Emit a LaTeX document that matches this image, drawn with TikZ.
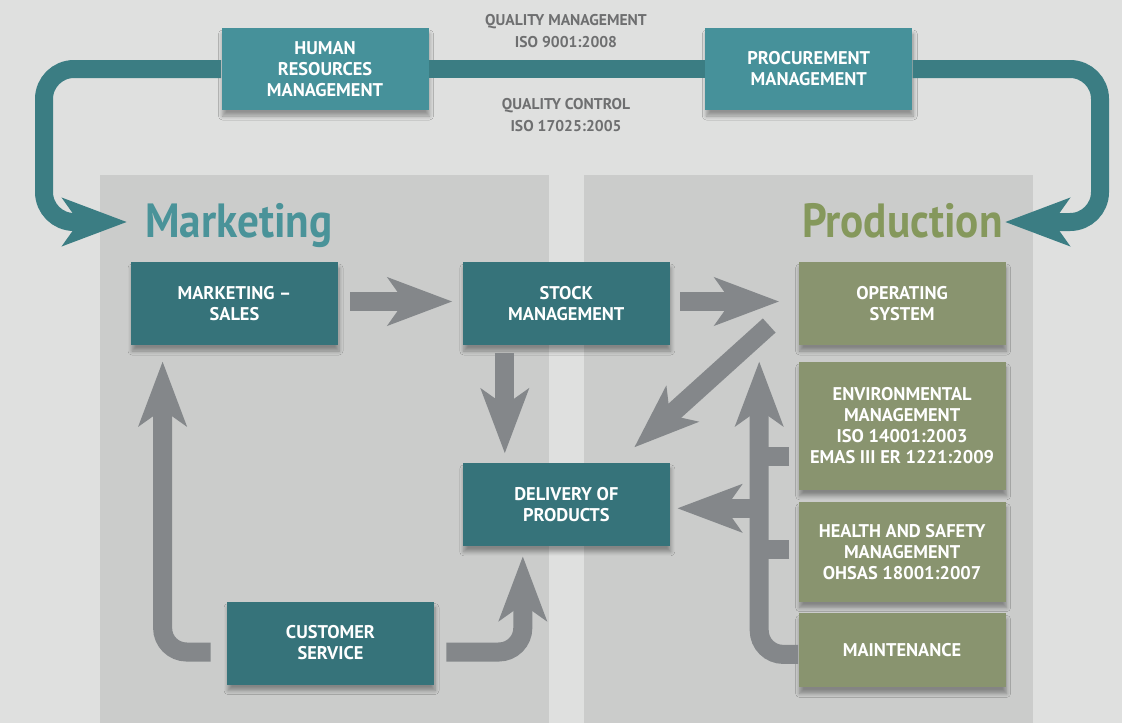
\documentclass[tikz,border=0pt]{standalone}
\usepackage{fontspec}
\setmainfont{PT Sans}
\newfontfamily\titlefont[FakeStretch=0.9]{PT Sans}
\usetikzlibrary{positioning, calc, arrows.meta, shadows.blur}

\definecolor{bggray}{HTML}{DFE0DF}
\definecolor{panelgray}{HTML}{CBCCCB}
\definecolor{boxteal}{HTML}{36737A}
\definecolor{topteal}{HTML}{46919A}
\definecolor{loopteal}{HTML}{3B7D83}
\definecolor{boxolive}{HTML}{89946F}
\definecolor{arrowgray}{HTML}{84878A}
\definecolor{titleteal}{HTML}{4A9399}
\definecolor{titlegreen}{HTML}{85985C}
\definecolor{notegray}{HTML}{6E6F70}

\tikzset{
	box/.style={inner sep=0pt, minimum width=103.5pt, align=center, text=white,
		font=\fontsize{9.2}{10.5}\selectfont\bfseries,
		blur shadow={shadow xshift=0.5pt, shadow yshift=-3pt, shadow opacity=35, shadow blur steps=6}},
	tealbox/.style={box, fill=boxteal, minimum height=41.5pt},
	topbox/.style={box, fill=topteal, minimum height=41pt},
	olivebox/.style={box, fill=boxolive},
	note/.style={align=center, text=notegray, inner sep=0pt, font=\fontsize{7.8}{11}\selectfont\bfseries},
	title/.style={inner sep=0pt, font=\titlefont\bfseries\fontsize{24}{24}\selectfont},
	bighead/.style={-{Stealth[length=32pt, width=23.5pt, inset=8pt]}},
	flow/.style={draw=arrowgray, line width=9.5pt},
	cycleline/.style={draw=loopteal, line width=9pt, rounded corners=15pt}
}

\begin{document}
\begin{tikzpicture}[x=0.5pt, y=-0.5pt]

	\path[use as bounding box, fill=bggray] (0,0) rectangle (1122,723);
	\fill[panelgray] (100,175) rectangle (549,723);
	\fill[panelgray] (584,175) rectangle (1033,723);

	\node[title, anchor=base west, text=titleteal] (mtitle) at (145,237) {Marketing};
	\node[title, anchor=base east, text=titlegreen] (ptitle) at (1003,237) {Production};

	\node[note] (qm) at (566,31) {QUALITY MANAGEMENT\\ISO 9001:2008};
	\node[note] (qc) at (566,115) {QUALITY CONTROL\\ISO 17025:2005};

	\node[topbox] (hr) at (325,69) {HUMAN\\RESOURCES\\MANAGEMENT};
	\node[topbox, right=138pt of hr] (proc) {PROCUREMENT\\MANAGEMENT};

	\node[tealbox] (mkt) at (234.5,303.5) {MARKETING --\\SALES};
	\node[tealbox, right=62pt of mkt] (stock) {STOCK\\MANAGEMENT};
	\node[tealbox, below=58.5pt of stock] (deliv) {DELIVERY OF\\PRODUCTS};
	\node[tealbox] (cs) at (330.5,643) {CUSTOMER\\SERVICE};

	\node[olivebox, minimum height=41.5pt, right=64pt of stock] (op) {OPERATING\\SYSTEM};
	\node[olivebox, minimum height=64pt, below=8pt of op] (env) {ENVIRONMENTAL\\MANAGEMENT\\ISO 14001:2003\\EMAS III ER 1221:2009};
	\node[olivebox, minimum height=50pt, below=5.5pt of env] (health) {HEALTH AND SAFETY\\MANAGEMENT\\OHSAS 18001:2007};
	\node[olivebox, minimum height=37pt, below=5.5pt of health] (maint) {MAINTENANCE};

	\draw[cycleline, bighead] (hr.west) -| ($(mtitle.base west)+(-101,-15)$) -- ($(mtitle.base west)+(-18,-15)$);
	\draw[cycleline] (hr.east) -- (proc.west);
	\draw[cycleline, bighead] (proc.east) -| ($(ptitle.base east)+(97,-15)$) -- ($(ptitle.base east)+(2,-15)$);

	\draw[flow, bighead] ($(mkt.east)+(12,-2)$) -- ($(stock.west)+(-10,-2)$);
	\draw[flow, bighead] ($(stock.east)+(10,-2)$) -- ($(op.west)+(-19,-2)$);
	\draw[flow, bighead] ($(stock.south)+(-61.5,8)$) -- ($(deliv.north)+(-61.5,-9)$);
	\draw[flow, bighead] ($(op.west)+(-29,22)$) -- ($(deliv.north east)+(-36,-15)$);

	\draw[flow, rounded corners=12pt, bighead] ($(maint.west)+(0,4)$) -| ($(op.south west)+(-39,16)$);
	\draw[flow] ($(env.west)+(-9,31)$) -- ($(env.west)+(-39,31)$);
	\draw[flow] ($(health.west)+(-9,-2)$) -- ($(health.west)+(-39,-2)$);
	\draw[flow, bighead] ($(deliv.east)+(89,4)$) -- ($(deliv.east)+(7,4)$);

	\draw[flow, rounded corners=12pt, bighead] ($(cs.west)+(-16,9)$) -| ($(mkt.south west)+(32,16)$);
	\draw[flow, rounded corners=12pt, bighead] ($(cs.east)+(12,9)$) -| ($(deliv.south)+(-43.5,10)$);

\end{tikzpicture}
\end{document}
